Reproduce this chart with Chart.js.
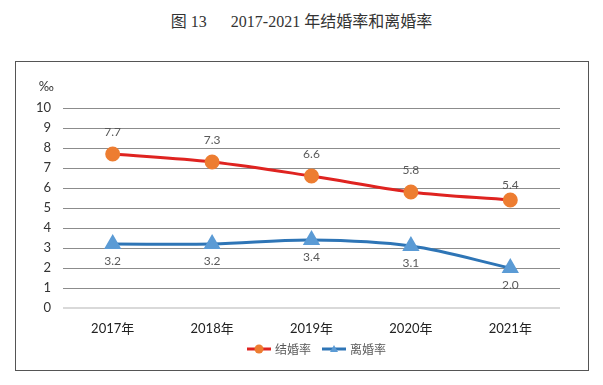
<!DOCTYPE html>
<html>
<head>
<meta charset="utf-8">
<script src="https://cdn.jsdelivr.net/npm/chart.js@4"></script>
<style>
  body { margin: 0; background: #fff; width: 603px; height: 385px; overflow: hidden; position: relative; }
  #title { position: absolute; left: 0; top: 8px; width: 603px; text-align: center;
    font-family: "Liberation Serif", "Noto Sans CJK SC", serif; font-size: 16px; color: #333; white-space: pre; }
  #box { position: absolute; left: 15px; top: 61px; width: 572px; height: 308px; border: 1.5px solid #555; }
  #box canvas { display: block; }
</style>
</head>
<body>
<div id="title">图 13      2017-2021 年结婚率和离婚率</div>
<div id="box"><canvas id="myChart" width="572" height="308"></canvas></div>
<script>
var years = ['2017年', '2018年', '2019年', '2020年', '2021年'];
var marriageRate = [7.7, 7.3, 6.6, 5.8, 5.4];
var divorceRate = [3.2, 3.2, 3.4, 3.1, 2.0];
var seriesNames = ['结婚率', '离婚率'];

var red = '#df2320';
var orange = '#ed7d31';
var blue = '#2e75b6';
var lightBlue = '#5b9bd5';

// value labels, the ‰ unit and the legend
var labelPlugin = {
  id: 'labels',
  afterDraw: function (chart) {
    var ctx = chart.ctx;
    ctx.save();
    ctx.font = '12px Lato, "Noto Sans", sans-serif';
    ctx.fillStyle = '#595959';
    ctx.textAlign = 'center';
    ctx.textBaseline = 'middle';
    chart.data.datasets.forEach(function (ds, i) {
      var meta = chart.getDatasetMeta(i);
      meta.data.forEach(function (pt, j) {
        var off = i == 0 ? -22 : 17;
        if (i == 0 && j == meta.data.length - 1) off = -15;
        ctx.fillText(ds.data[j].toFixed(1), pt.x, pt.y + off);
      });
    });
    ctx.font = '13px Lato, "Noto Sans", sans-serif';
    ctx.fillStyle = '#333';
    ctx.textAlign = 'right';
    ctx.fillText('‰', 38, 25);

    // legend
    var ly = chart.chartArea.bottom + 41;
    var items = [
      { x: 231, line: red, dot: orange, shape: 'circle' },
      { x: 306, line: blue, dot: lightBlue, shape: 'triangle' }
    ];
    items.forEach(function (it, i) {
      ctx.strokeStyle = it.line;
      ctx.lineWidth = 3;
      ctx.beginPath(); ctx.moveTo(it.x, ly); ctx.lineTo(it.x + 24, ly); ctx.stroke();
      ctx.fillStyle = it.dot;
      ctx.beginPath();
      if (it.shape == 'circle') {
        ctx.arc(it.x + 12, ly, 4.5, 0, Math.PI * 2);
      } else {
        ctx.moveTo(it.x + 12, ly - 4); ctx.lineTo(it.x + 16, ly + 3); ctx.lineTo(it.x + 8, ly + 3); ctx.closePath();
      }
      ctx.fill();
      ctx.font = '12px "Noto Sans CJK SC", sans-serif';
      ctx.fillStyle = '#595959';
      ctx.textAlign = 'left';
      ctx.fillText(seriesNames[i], it.x + 28, ly);
    });
    ctx.restore();
  }
};

var chart = new Chart(document.getElementById('myChart'), {
  type: 'line',
  data: {
    labels: years,
    datasets: [{
      label: seriesNames[0],
      data: marriageRate,
      borderColor: red,
      borderWidth: 3,
      pointStyle: 'circle',
      pointRadius: 6,
      pointBackgroundColor: orange,
      pointBorderColor: orange,
      tension: 0.35
    }, {
      label: seriesNames[1],
      data: divorceRate,
      borderColor: blue,
      borderWidth: 3,
      pointStyle: 'triangle',
      pointRadius: 7,
      pointBackgroundColor: lightBlue,
      pointBorderColor: lightBlue,
      tension: 0.35
    }]
  },
  options: {
    responsive: false,
    animation: false,
    layout: { padding: { top: 46, right: 28, left: 0, bottom: 32 } },
    plugins: {
      tooltip: { enabled: false },
      legend: { display: false }
    },
    scales: {
      x: {
        offset: true,
        afterFit: function (axis) { axis.height = 30; },
        grid: { display: false },
        border: { display: false },
        ticks: { color: '#222', padding: 5, font: { size: 13, family: 'Lato, "Noto Sans CJK SC", sans-serif' } }
      },
      y: {
        min: 0,
        max: 10,
        afterFit: function (axis) { axis.width = 47; },
        grid: {
          color: function (c) { return c.tick.value == 0 ? '#d9d9d9' : '#8c8c8c'; },
          lineWidth: function (c) { return c.tick.value == 0 ? 2 : 1; },
          drawTicks: false
        },
        border: { display: false },
        ticks: { stepSize: 1, autoSkip: false, color: '#333', padding: 12, font: { size: 13, family: 'Lato, "Noto Sans", sans-serif' } }
      }
    }
  },
  plugins: [labelPlugin]
});
</script>
</body>
</html>
